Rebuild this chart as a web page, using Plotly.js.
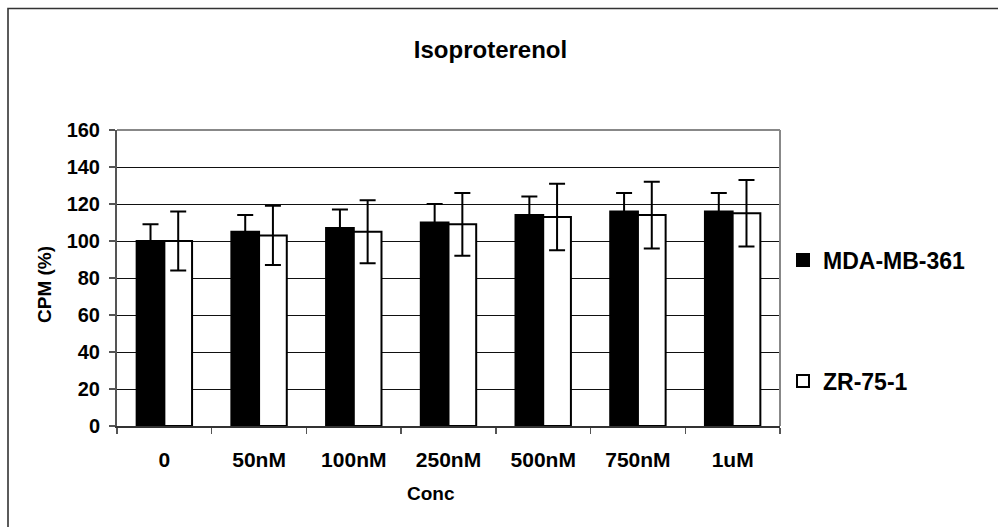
<!DOCTYPE html>
<html>
<head>
<meta charset="utf-8">
<script src="https://cdn.plot.ly/plotly-3.0.1.min.js"></script>
<style>
  html, body { margin: 0; padding: 0; background: #fff; }
  #chart { width: 998px; height: 527px; }
</style>
</head>
<body>
<div id="chart"></div>
<script>
// Isoproterenol dose response: CPM (%) per concentration for two cell lines
const categories = ['0', '50nM', '100nM', '250nM', '500nM', '750nM', '1uM'];
const mdaValues  = [100, 105, 107, 110, 114, 116, 116];
const mdaErrors  = [9, 9, 10, 10, 10, 10, 10];
const zrValues   = [100, 103, 105, 109, 113, 114, 115];
const zrErrors   = [16, 16, 17, 17, 18, 18, 18];
const seriesNames = ['MDA-MB-361', 'ZR-75-1'];
const yTicks = [0, 20, 40, 60, 80, 100, 120, 140, 160];

const SANS = 'Liberation Sans, Arial, sans-serif';

const errStyle = (arr) => ({
  type: 'data', array: arr, visible: true,
  color: '#000', thickness: 2, width: 8
});

const traces = [
  {
    type: 'bar', name: seriesNames[0], x: categories, y: mdaValues,
    marker: { color: '#000', line: { color: '#000', width: 2 } },
    error_y: errStyle(mdaErrors),
    legend: 'legend'
  },
  {
    type: 'bar', name: seriesNames[1], x: categories, y: zrValues,
    marker: { color: '#fff', line: { color: '#000', width: 2 } },
    error_y: errStyle(zrErrors),
    legend: 'legend2'
  }
];

// plot area: x 117..780, y 130..426 (pixels)
const L = 117, R = 780, T = 130, B = 426;
const px = (x) => (x - L) / (R - L);
const py = (y) => (B - y) / (B - T);

const legendFont = { family: SANS, size: 23, color: '#000', weight: 'bold' };

const layout = {
  width: 998, height: 527,
  margin: { l: L, r: 998 - R, t: T, b: 527 - B },
  paper_bgcolor: '#fff', plot_bgcolor: '#fff',
  barmode: 'group', bargap: 0.415, bargroupgap: 0,
  title: {
    text: 'Isoproterenol',
    font: { family: SANS, size: 24, color: '#000', weight: 'bold' },
    xref: 'container', yref: 'container',
    x: 0.4915, xanchor: 'center', y: 1 - 50 / 527, yanchor: 'middle'
  },
  xaxis: {
    type: 'category',
    tickson: 'boundaries', ticks: 'outside', ticklen: 6, tickwidth: 1.5, tickcolor: '#555',
    showline: true, linecolor: '#333', linewidth: 2,
    showgrid: false, zeroline: false,
    ticklabelstandoff: 14,
    tickfont: { family: SANS, size: 21, color: '#000', weight: 'bold' },
    automargin: false
  },
  yaxis: {
    range: [0, 160], tickvals: yTicks,
    ticks: 'outside', ticklen: 6, tickwidth: 1.5, tickcolor: '#555',
    showline: true, linecolor: '#555', linewidth: 2,
    showgrid: true, gridcolor: '#111', gridwidth: 1,
    zeroline: false,
    ticklabelstandoff: 5,
    tickfont: { family: SANS, size: 20, color: '#000', weight: 'bold' },
    automargin: false
  },
  annotations: [
    // axis titles
    { text: 'Conc', xref: 'paper', yref: 'paper', x: px(431), y: py(493),
      xanchor: 'center', yanchor: 'middle', showarrow: false,
      font: { family: SANS, size: 19, color: '#000', weight: 'bold' } },
    { text: 'CPM (%)', xref: 'paper', yref: 'paper', x: px(44), y: py(285),
      xanchor: 'center', yanchor: 'middle', textangle: -90, showarrow: false,
      font: { family: SANS, size: 19, color: '#000', weight: 'bold' } }
  ],
  legend: {
    xref: 'container', yref: 'container',
    x: 783 / 998, xanchor: 'left', y: 1 - 260 / 527, yanchor: 'middle',
    font: legendFont, bgcolor: 'rgba(0,0,0,0)'
  },
  legend2: {
    xref: 'container', yref: 'container',
    x: 783 / 998, xanchor: 'left', y: 1 - 381 / 527, yanchor: 'middle',
    font: legendFont, bgcolor: 'rgba(0,0,0,0)'
  },
  shapes: [
    // plot-area frame: top and right edges in grey
    { type: 'line', xref: 'paper', yref: 'paper', x0: 0, x1: 1, y0: 1, y1: 1,
      line: { color: '#888', width: 2 }, layer: 'above' },
    { type: 'line', xref: 'paper', yref: 'paper', x0: 1, x1: 1, y0: 0, y1: 1,
      line: { color: '#888', width: 2 }, layer: 'above' },
    // chart-area border
    { type: 'rect', xref: 'paper', yref: 'paper',
      x0: px(8), x1: px(1012), y0: py(8.5), y1: py(540),
      line: { color: '#333', width: 1.6 }, layer: 'above' }
  ],
  showlegend: true
};

Plotly.newPlot('chart', traces, layout, { displayModeBar: false, staticPlot: true });
</script>
</body>
</html>
